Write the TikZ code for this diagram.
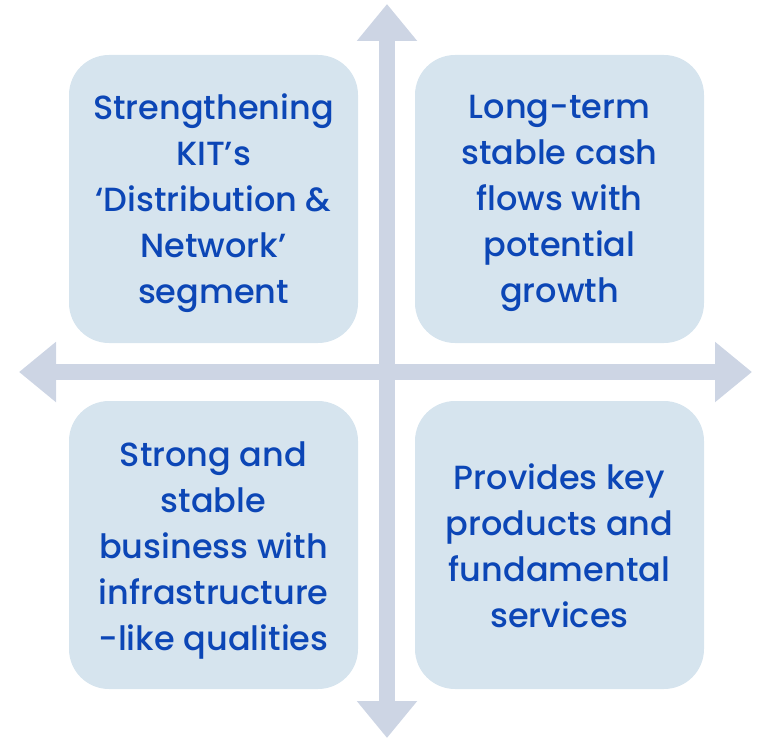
\documentclass[tikz,border=0pt]{standalone}
\usepackage{fontspec}
\setmainfont{Poppins}[UprightFont=* Medium]
\usetikzlibrary{arrows.meta, positioning}
\definecolor{textblue}{RGB}{12, 70, 182}
\definecolor{boxfill}{RGB}{214, 228, 238}
\definecolor{axisgray}{RGB}{205, 213, 228}
\tikzset{
  quadbox/.style={fill=boxfill, rounded corners=40pt, minimum width=289pt, minimum height=288pt},
  quadtext/.style={align=center, text=textblue, font=\fontsize{33.5}{46}\selectfont},
  axisarrow/.style={draw=axisgray, line width=16pt,
    {Triangle[length=37pt, width=58pt]}-{Triangle[length=37pt, width=58pt]}}
}

\begin{document}
\begin{tikzpicture}[x=1pt, y=-1pt]
  \useasboundingbox (0, 0) rectangle (757, 741);

  % axes
  \coordinate (top) at (387, 4);
  \coordinate (bottom) at (387, 738);
  \coordinate (left) at (19, 372);
  \coordinate (right) at (752, 372);
  \draw[axisarrow] (bottom) -- (top);
  \draw[axisarrow] (left) -- (right);

  % quadrants
  \node[quadbox] (segment) at (213.5, 199) {};
  \node[quadbox] (cashflow) at (559.5, 199) {};
  \node[quadbox] (business) at (213.5, 545) {};
  \node[quadbox] (services) at (559.5, 545) {};

  % texts
  \node[quadtext] (segmenttext) at ([yshift=-4pt]segment.center) {Strengthening\\KIT’s\\‘Distribution \&\\Network’\\segment};
  \node[quadtext] (cashflowtext) at ([yshift=-4pt]cashflow.center) {Long-term\\stable cash\\flows with\\potential\\growth};
  \node[quadtext] (businesstext) at ([yshift=-5pt]business.center) {Strong and\\stable\\business with\\infrastructure\\-like qualities};
  \node[quadtext] (servicestext) at ([yshift=-1pt]services.center) {Provides key\\products and\\fundamental\\services};
\end{tikzpicture}
\end{document}
